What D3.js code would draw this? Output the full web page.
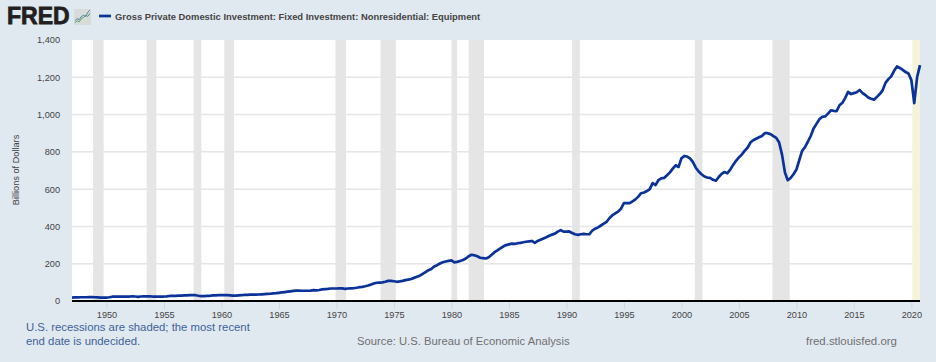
<!DOCTYPE html>
<html>
<head>
<meta charset="utf-8">
<script src="https://cdn.jsdelivr.net/npm/d3@7"></script>
<style>
  html, body { margin: 0; padding: 0; background: #e1e9f0; overflow: hidden; }
  text { font-family: "Liberation Sans", Arial, sans-serif; }
</style>
</head>
<body>
<div id="chart"></div>
<script>
// quarterly values, billions of dollars (1947 Q1 onwards)
const startYear = 1947
const values = [
  18, 19, 19, 20,  20, 20, 21, 21,  20, 19, 18, 18,  18, 20, 23, 23,
  23, 24, 24, 24,  24, 25, 24, 22,  24, 25, 25, 25,  24, 24, 23, 24,
  24, 25, 27, 28,  28, 29, 29, 30,  30, 31, 31, 31,  28, 26, 26, 27,
  28, 30, 30, 31,  31, 32, 31, 30,  29, 29, 30, 31,  33, 33, 34, 34,
  34, 35, 36, 37,  38, 39, 41, 42,  44, 46, 48, 50,  52, 54, 56, 56,
  55, 55, 55, 56,  58, 57, 59, 62,  64, 65, 67, 67,  67, 68, 68, 65,
  67, 68, 69, 71,  74, 76, 79, 83,  88, 94, 98, 99,  100, 103, 108, 108,
  106, 103, 105, 108,  112, 115, 118, 124,  130, 136, 145, 155,  165, 172, 185, 192,
  201, 208, 212, 215,  218, 207, 210, 215,  220, 228, 240, 248,  245, 240, 232, 230,
  228, 235, 248, 262,  272, 282, 292, 300,  304, 308, 306, 310,  312, 315, 318, 320,
  322, 312, 322, 328,  335, 342, 350, 356,  362, 372, 380, 372,  372, 373, 365, 358,
  355, 358, 360, 358,  358, 378, 388, 395,  405, 415, 425, 445,  460, 470, 480, 495,
  525, 525, 525, 535,  545, 560, 578, 582,  590, 600, 632, 622,  648, 658, 660, 675,
  690, 710, 728, 719,  765, 778, 775, 765,  745, 715, 695, 680,  668, 662, 660, 650,
  645, 665, 682, 692,  685, 705, 730, 752,  770, 785, 805, 822,  850, 862, 870, 878,
  885, 900, 900, 895,  885, 875, 850, 785,  690, 648, 660, 680,  705, 755, 805, 825,
  855, 885, 925, 950,  975, 988, 990, 1005,  1023, 1020, 1018, 1050,  1063, 1090, 1122, 1110,
  1115, 1120, 1132, 1115,  1105, 1092, 1085, 1080,  1095, 1110, 1130, 1170,  1190, 1205, 1235, 1258,
  1250, 1240, 1228, 1220,  1185, 1061, 1200, 1265
]
const yTicks = [0, 200, 400, 600, 800, 1000, 1200, 1400]
const xTickYears = [1950, 1955, 1960, 1965, 1970, 1975, 1980, 1985, 1990, 1995, 2000, 2005, 2010, 2015, 2020]
const recessionStarts = ["1948-11", "1953-07", "1957-08", "1960-04", "1969-12", "1973-11", "1980-01", "1981-07", "1990-07", "2001-03", "2007-12"]
const recessionEnds = ["1949-10", "1954-05", "1958-04", "1961-02", "1970-11", "1975-03", "1980-07", "1982-11", "1991-03", "2001-11", "2009-06"]
const latestRecession = ["2020-02", "2020-10"]
const seriesTitle = "Gross Private Domestic Investment: Fixed Investment: Nonresidential: Equipment"
// logo sparkline
const iconGreen = [2, 4, 3, 6, 7, 9, 8, 11]
const iconBlue = [4, 6, 5, 8, 9, 8, 12, 14]

const WIDTH = 936, HEIGHT = 362
const MARGIN = { top: 40, right: 16, bottom: 61, left: 72 }

const parseMonth = d3.utcParse("%Y-%m")
const quarterDate = i => new Date(Date.UTC(startYear + Math.floor(i / 4), (i % 4) * 3, 1))

const svg = d3.select("#chart")
  .append("svg")
  .attr("width", WIDTH)
  .attr("height", HEIGHT)
  .style("display", "block")

const xScale = d3.scaleUtc()
  .domain([quarterDate(0), quarterDate(values.length - 1)])
  .range([MARGIN.left, WIDTH - MARGIN.right])
const yScale = d3.scaleLinear()
  .domain([0, 1400])
  .range([HEIGHT - MARGIN.bottom, MARGIN.top])

// plot background
svg.append("rect")
  .attr("x", MARGIN.left)
  .attr("y", MARGIN.top)
  .attr("width", WIDTH - MARGIN.left - MARGIN.right)
  .attr("height", HEIGHT - MARGIN.top - MARGIN.bottom)
  .attr("fill", "#fff")

// gridlines sit under the recession bands
svg.append("g")
  .selectAll("line")
  .data(yTicks.filter(d => d > 0 && d < 1400))
  .enter().append("line")
  .attr("x1", MARGIN.left)
  .attr("x2", WIDTH - MARGIN.right)
  .attr("y1", d => yScale(d))
  .attr("y2", d => yScale(d))
  .attr("stroke", "#e6e6e6")
  .attr("stroke-width", 1.5)

svg.append("g")
  .selectAll("rect")
  .data(recessionStarts)
  .enter().append("rect")
  .attr("x", d => xScale(parseMonth(d)))
  .attr("y", MARGIN.top)
  .attr("width", (d, i) => xScale(parseMonth(recessionEnds[i])) - xScale(parseMonth(d)))
  .attr("height", HEIGHT - MARGIN.top - MARGIN.bottom)
  .attr("fill", "#e5e5e5")

const latestX = xScale(parseMonth(latestRecession[0]))
svg.append("rect")
  .attr("x", latestX)
  .attr("y", MARGIN.top)
  .attr("width", xScale.range()[1] - latestX)
  .attr("height", HEIGHT - MARGIN.top - MARGIN.bottom)
  .attr("fill", "#f5f3d9")

// axes
const xAxis = svg.append("g")
  .attr("transform", "translate(0," + (HEIGHT - MARGIN.bottom) + ")")
  .call(d3.axisBottom(xScale)
    .tickValues(xTickYears.map(y => new Date(Date.UTC(y, 0, 1))))
    .tickFormat(d3.utcFormat("%Y"))
    .tickSize(8)
    .tickPadding(2))
xAxis.select(".domain").remove()
xAxis.selectAll("line").attr("stroke", "#ccd6eb")
xAxis.selectAll("text").attr("fill", "#444").style("font-size", "9.2px")

const yAxis = svg.append("g")
  .attr("transform", "translate(" + MARGIN.left + ",0)")
  .call(d3.axisLeft(yScale)
    .tickValues(yTicks)
    .tickFormat(d3.format(","))
    .tickSize(0)
    .tickPadding(12))
yAxis.select(".domain").remove()
yAxis.selectAll("text").attr("fill", "#444").style("font-size", "9.2px")

// the line
const line = d3.line()
  .x((d, i) => xScale(quarterDate(i)))
  .y(d => yScale(d))
svg.append("path")
  .datum(values)
  .attr("d", line)
  .attr("fill", "none")
  .attr("stroke", "#0a3299")
  .attr("stroke-width", 2.7)
  .attr("stroke-linejoin", "round")

// baseline over the line
svg.append("line")
  .attr("x1", MARGIN.left)
  .attr("x2", WIDTH - MARGIN.right)
  .attr("y1", yScale(0))
  .attr("y2", yScale(0))
  .attr("stroke", "#000")
  .attr("stroke-width", 2)

svg.append("text")
  .attr("transform", "translate(19," + (MARGIN.top + 130) + ") rotate(-90)")
  .attr("text-anchor", "middle")
  .attr("fill", "#444")
  .style("font-size", "9.2px")
  .text("Billions of Dollars")

// header
svg.append("text")
  .attr("x", 7)
  .attr("y", 24)
  .attr("fill", "#231f20")
  .style("font-size", "23px")
  .style("font-weight", 700)
  .style("stroke", "#231f20")
  .style("stroke-width", "0.8px")
  .text("FRED")

const iconX = d3.scaleLinear().domain([0, iconBlue.length - 1]).range([75, 90])
const iconY = d3.scaleLinear().domain([0, 15]).range([25, 9])
svg.append("rect")
  .attr("x", 74)
  .attr("y", 9)
  .attr("width", 17)
  .attr("height", 16)
  .attr("fill", "#d8dcd8")
svg.append("path")
  .datum(iconGreen)
  .attr("d", d3.line().x((d, i) => iconX(i)).y(d => iconY(d)))
  .attr("fill", "none")
  .attr("stroke", "#5f9e6e")
  .attr("stroke-width", 1)
svg.append("path")
  .datum(iconBlue)
  .attr("d", d3.line().x((d, i) => iconX(i)).y(d => iconY(d)))
  .attr("fill", "none")
  .attr("stroke", "#4f7fa8")
  .attr("stroke-width", 1)

svg.append("line")
  .attr("x1", 99)
  .attr("x2", 111)
  .attr("y1", 16)
  .attr("y2", 16)
  .attr("stroke", "#0a3299")
  .attr("stroke-width", 2.7)
svg.append("text")
  .attr("x", 115)
  .attr("y", 19.5)
  .attr("fill", "#444")
  .style("font-size", "9.4px")
  .style("font-weight", 700)
  .text(seriesTitle)

// footer
svg.append("text")
  .attr("x", 26)
  .attr("y", 331)
  .attr("fill", "#3d6199")
  .style("font-size", "11.35px")
  .text("U.S. recessions are shaded; the most recent")
svg.append("text")
  .attr("x", 26)
  .attr("y", 345)
  .attr("fill", "#3d6199")
  .style("font-size", "11.35px")
  .text("end date is undecided.")
svg.append("text")
  .attr("x", 357)
  .attr("y", 345)
  .attr("fill", "#707070")
  .style("font-size", "11.25px")
  .text("Source: U.S. Bureau of Economic Analysis")
svg.append("text")
  .attr("x", 806)
  .attr("y", 345)
  .attr("fill", "#707070")
  .style("font-size", "11.45px")
  .text("fred.stlouisfed.org")
</script>
</body>
</html>
